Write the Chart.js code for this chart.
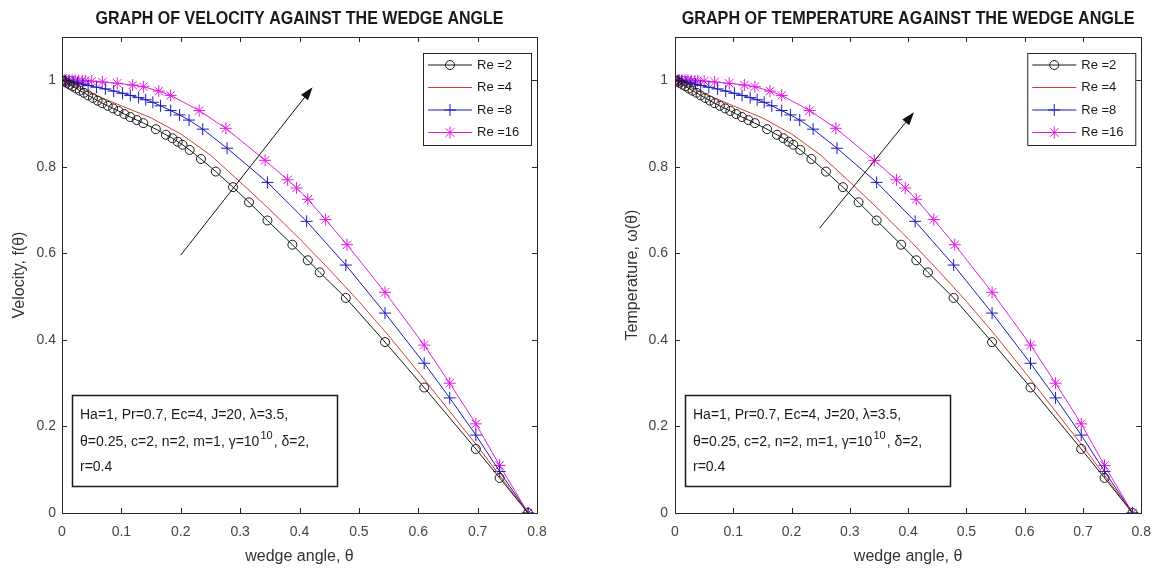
<!DOCTYPE html>
<html>
<head>
<meta charset="utf-8">
<title>Velocity and temperature against the wedge angle</title>
<script src="https://cdn.jsdelivr.net/npm/chart.js@4.4.1/dist/chart.umd.min.js"></script>
<style>
  html, body { margin: 0; padding: 0; background: #fff; }
  #wrap { position: relative; width: 1162px; height: 572px; }
  .panel { position: absolute; top: 0; width: 581px; height: 572px; }
</style>
</head>
<body>
<div id="wrap">
  <div class="panel" style="left:0"><canvas id="velChart" width="581" height="572"></canvas></div>
  <div class="panel" style="left:581px"><canvas id="tempChart" width="581" height="572"></canvas></div>
</div>
<script>
// --- data ---
const seriesLabels = ["Re =2", "Re =4", "Re =8", "Re =16"];
const xTicks = [0, 0.1, 0.2, 0.3, 0.4, 0.5, 0.6, 0.7, 0.8];
const yTicks = [0, 0.2, 0.4, 0.6, 0.8, 1];

const thetaRe2 = [0, 0.004, 0.008, 0.013, 0.018, 0.024, 0.030, 0.037, 0.044, 0.052, 0.060, 0.068, 0.077,
  0.086, 0.095, 0.105, 0.115, 0.126, 0.137, 0.158, 0.175, 0.186, 0.195, 0.203, 0.215, 0.234, 0.259,
  0.288, 0.315, 0.346, 0.388, 0.414, 0.434, 0.478, 0.544, 0.610, 0.697, 0.737, 0.785];
const valRe2 = [1.000, 0.997, 0.994, 0.990, 0.986, 0.981, 0.976, 0.971, 0.965, 0.959, 0.953, 0.947, 0.941,
  0.935, 0.929, 0.922, 0.915, 0.908, 0.901, 0.887, 0.874, 0.866, 0.858, 0.851, 0.839, 0.818, 0.789,
  0.753, 0.718, 0.676, 0.620, 0.584, 0.556, 0.497, 0.395, 0.290, 0.148, 0.081, 0];

const thetaRe4 = [0, 0.05, 0.1, 0.15, 0.2, 0.25, 0.3, 0.35, 0.4, 0.45, 0.5, 0.55, 0.6, 0.65, 0.7, 0.75, 0.785];
const valRe4 = [1.000, 0.969, 0.941, 0.913, 0.876, 0.827, 0.765, 0.701, 0.634, 0.563, 0.489, 0.410, 0.326,
  0.240, 0.154, 0.063, 0];

const thetaRe8 = [0, 0.006, 0.012, 0.019, 0.026, 0.035, 0.044, 0.058, 0.073, 0.087, 0.102, 0.115, 0.129,
  0.141, 0.153, 0.166, 0.183, 0.198, 0.214, 0.237, 0.278, 0.346, 0.412, 0.478, 0.544, 0.610, 0.653,
  0.697, 0.737, 0.785];
const valRe8 = [1.000, 0.999, 0.998, 0.996, 0.994, 0.991, 0.988, 0.984, 0.980, 0.975, 0.970, 0.965, 0.960,
  0.955, 0.949, 0.941, 0.930, 0.920, 0.908, 0.887, 0.843, 0.764, 0.674, 0.573, 0.462, 0.346, 0.266,
  0.180, 0.096, 0];

const thetaRe16 = [0, 0.004, 0.008, 0.012, 0.017, 0.022, 0.028, 0.034, 0.039, 0.050, 0.068, 0.093, 0.119,
  0.137, 0.163, 0.183, 0.231, 0.276, 0.342, 0.380, 0.395, 0.414, 0.444, 0.480, 0.544, 0.610, 0.653,
  0.697, 0.737, 0.785];
const valRe16 = [1.000, 1.000, 1.000, 1.000, 1.000, 1.000, 0.999, 0.999, 0.999, 0.998, 0.996, 0.993, 0.989,
  0.985, 0.975, 0.965, 0.930, 0.889, 0.815, 0.770, 0.751, 0.725, 0.678, 0.620, 0.510, 0.388, 0.300,
  0.206, 0.110, 0];

// the temperature panel shows the same profiles
const seriesTheta = [thetaRe2, thetaRe4, thetaRe8, thetaRe16];
const seriesVal = [valRe2, valRe4, valRe8, valRe16];

const FONT = "'Liberation Sans', Arial, sans-serif";
const colors = ["#1a1a1a", "#d2402f", "#1c1cb8", "#e01de0"];
const markers = ["circle", false, "cross", "star"];
const radii = [4.5, 0, 6, 6];

const fmt = v => String(+Number(v).toFixed(1));

function buildDatasets() {
  return seriesLabels.map((label, i) => ({
    label: label,
    data: seriesTheta[i].map((t, k) => ({ x: t, y: seriesVal[i][k] })),
    borderColor: colors[i],
    borderWidth: 1,
    backgroundColor: "rgba(0,0,0,0)",
    pointStyle: markers[i],
    pointRadius: radii[i],
    pointBorderColor: colors[i],
    pointBorderWidth: 1,
    pointBackgroundColor: "rgba(0,0,0,0)",
    tension: 0,
    fill: false
  }));
}

function drawMarker(ctx, style, cx, cy, r, color) {
  ctx.save();
  ctx.strokeStyle = color;
  ctx.lineWidth = 1;
  ctx.beginPath();
  if (style === "circle") {
    ctx.arc(cx, cy, r, 0, Math.PI * 2);
  } else if (style === "cross" || style === "star") {
    ctx.moveTo(cx - r, cy); ctx.lineTo(cx + r, cy);
    ctx.moveTo(cx, cy - r); ctx.lineTo(cx, cy + r);
    if (style === "star") {
      const d = r * Math.SQRT1_2;
      ctx.moveTo(cx - d, cy - d); ctx.lineTo(cx + d, cy + d);
      ctx.moveTo(cx - d, cy + d); ctx.lineTo(cx + d, cy - d);
    }
  }
  ctx.stroke();
  ctx.restore();
}

const overlay = {
  id: "overlay",
  afterDraw(chart, args, o) {
    const { ctx, chartArea: a, scales: { x, y } } = chart;
    ctx.save();

    // box and inward ticks
    ctx.strokeStyle = "#262626";
    ctx.lineWidth = 1;
    ctx.strokeRect(Math.round(a.left) + 0.5, Math.round(a.top) + 0.5,
      Math.round(a.right - a.left), Math.round(a.bottom - a.top));
    ctx.beginPath();
    xTicks.forEach(v => {
      const px = Math.round(x.getPixelForValue(v)) + 0.5;
      ctx.moveTo(px, a.bottom); ctx.lineTo(px, a.bottom - 5);
      ctx.moveTo(px, a.top); ctx.lineTo(px, a.top + 5);
    });
    yTicks.forEach(v => {
      const py = Math.round(y.getPixelForValue(v)) + 0.5;
      ctx.moveTo(a.left, py); ctx.lineTo(a.left + 5, py);
      ctx.moveTo(a.right, py); ctx.lineTo(a.right - 5, py);
    });
    ctx.stroke();

    // title (condensed bold)
    ctx.font = "bold 18px " + FONT;
    ctx.fillStyle = "#1a1a1a";
    ctx.textBaseline = "middle";
    ctx.textAlign = "center";
    const natural = ctx.measureText(o.title).width;
    ctx.save();
    ctx.translate((a.left + a.right) / 2, 19);
    ctx.scale(o.titleWidth / natural, 1);
    ctx.fillText(o.title, 0, 0);
    ctx.restore();

    // arrow
    const x0 = x.getPixelForValue(o.arrow[0]), y0 = y.getPixelForValue(o.arrow[1]);
    const x1 = x.getPixelForValue(o.arrow[2]), y1 = y.getPixelForValue(o.arrow[3]);
    const ang = Math.atan2(y1 - y0, x1 - x0);
    ctx.strokeStyle = "#111";
    ctx.beginPath();
    ctx.moveTo(x0, y0);
    ctx.lineTo(x1 - 8 * Math.cos(ang), y1 - 8 * Math.sin(ang));
    ctx.stroke();
    ctx.fillStyle = "#111";
    ctx.beginPath();
    ctx.moveTo(x1, y1);
    ctx.lineTo(x1 - 13 * Math.cos(ang) + 4.5 * Math.sin(ang), y1 - 13 * Math.sin(ang) - 4.5 * Math.cos(ang));
    ctx.lineTo(x1 - 13 * Math.cos(ang) - 4.5 * Math.sin(ang), y1 - 13 * Math.sin(ang) + 4.5 * Math.cos(ang));
    ctx.closePath();
    ctx.fill();

    // legend box
    const lx = a.right - 114, ly = 53, lw = 108, lh = 92;
    ctx.fillStyle = "#fff";
    ctx.fillRect(lx, ly, lw, lh);
    ctx.strokeStyle = "#262626";
    ctx.strokeRect(lx + 0.5, ly + 0.5, lw, lh);
    ctx.font = "13px " + FONT;
    ctx.textAlign = "left";
    seriesLabels.forEach((lab, i) => {
      const ry = ly + 12 + i * 22.5;
      ctx.strokeStyle = colors[i];
      ctx.beginPath();
      ctx.moveTo(lx + 5, ry); ctx.lineTo(lx + 49, ry);
      ctx.stroke();
      if (markers[i]) drawMarker(ctx, markers[i], lx + 27, ry, radii[i], colors[i]);
      ctx.fillStyle = "#1a1a1a";
      ctx.fillText(lab, lx + 54, ry);
    });

    // parameter box
    const bx = a.left + 10, by = 395, bw = 265, bh = 91;
    ctx.fillStyle = "#fff";
    ctx.fillRect(bx, by, bw, bh);
    ctx.lineWidth = 1.5;
    ctx.strokeStyle = "#1a1a1a";
    ctx.strokeRect(bx + 0.5, by + 0.5, bw, bh);
    ctx.fillStyle = "#1a1a1a";
    ctx.font = "14px " + FONT;
    const tx = bx + 8;
    ctx.fillText("Ha=1, Pr=0.7, Ec=4, J=20, \u03bb=3.5,", tx, 415);
    let cx = tx;
    const part1 = "\u03b8=0.25, c=2, n=2, m=1, \u03b3=10";
    ctx.fillText(part1, cx, 442);
    cx += ctx.measureText(part1).width;
    ctx.font = "11px " + FONT;
    ctx.fillText("10", cx + 1, 436);
    cx += ctx.measureText("10").width + 2;
    ctx.font = "14px " + FONT;
    ctx.fillText(", \u03b4=2,", cx, 442);
    ctx.fillText("r=0.4", tx, 467);

    ctx.restore();
  }
};

function makeChart(id, cfg) {
  return new Chart(document.getElementById(id), {
    type: "line",
    data: { datasets: buildDatasets() },
    options: {
      responsive: false,
      animation: false,
      layout: { padding: { top: 37, right: cfg.padRight, bottom: 0, left: 0 } },
      plugins: {
        legend: { display: false },
        tooltip: { enabled: false },
        overlay: cfg.overlay
      },
      scales: {
        x: {
          type: "linear",
          min: 0,
          max: 0.8,
          afterBuildTicks: s => { s.ticks = xTicks.map(v => ({ value: v })); },
          afterFit: s => { s.height = 59; },
          grid: { display: false, drawTicks: false },
          border: { display: false },
          ticks: { color: "#444", font: { size: 14, family: FONT }, padding: 11, maxRotation: 0, callback: fmt },
          title: {
            display: true, text: "wedge angle, \u03b8", color: "#333",
            font: { size: 16, family: FONT }, padding: { top: 0, bottom: 6 }
          }
        },
        y: {
          type: "linear",
          min: 0,
          max: 1.1,
          afterBuildTicks: s => { s.ticks = yTicks.map(v => ({ value: v })); },
          afterFit: s => { s.width = cfg.yWidth; },
          grid: { display: false, drawTicks: false },
          border: { display: false },
          ticks: { color: "#444", font: { size: 14, family: FONT }, padding: cfg.yTickPad, callback: fmt },
          title: {
            display: true, text: cfg.yTitle, color: "#333",
            font: { size: 16, family: FONT }, padding: { top: cfg.yTitlePad, bottom: 0 }
          }
        }
      }
    },
    plugins: [overlay]
  });
}

makeChart("velChart", {
  padRight: 44, yWidth: 62, yTickPad: 6, yTitlePad: 10,
  yTitle: "Velocity, f(\u03b8)",
  overlay: { title: "GRAPH OF VELOCITY AGAINST THE WEDGE ANGLE", titleWidth: 408, arrow: [0.2, 0.596, 0.422, 0.984] }
});

makeChart("tempChart", {
  padRight: 9, yWidth: 94, yTickPad: 7, yTitlePad: 42,
  yTitle: "Temperature, \u03c9(\u03b8)",
  overlay: { title: "GRAPH OF TEMPERATURE AGAINST THE WEDGE ANGLE", titleWidth: 453, arrow: [0.248, 0.658, 0.41, 0.926] }
});
</script>
</body>
</html>
